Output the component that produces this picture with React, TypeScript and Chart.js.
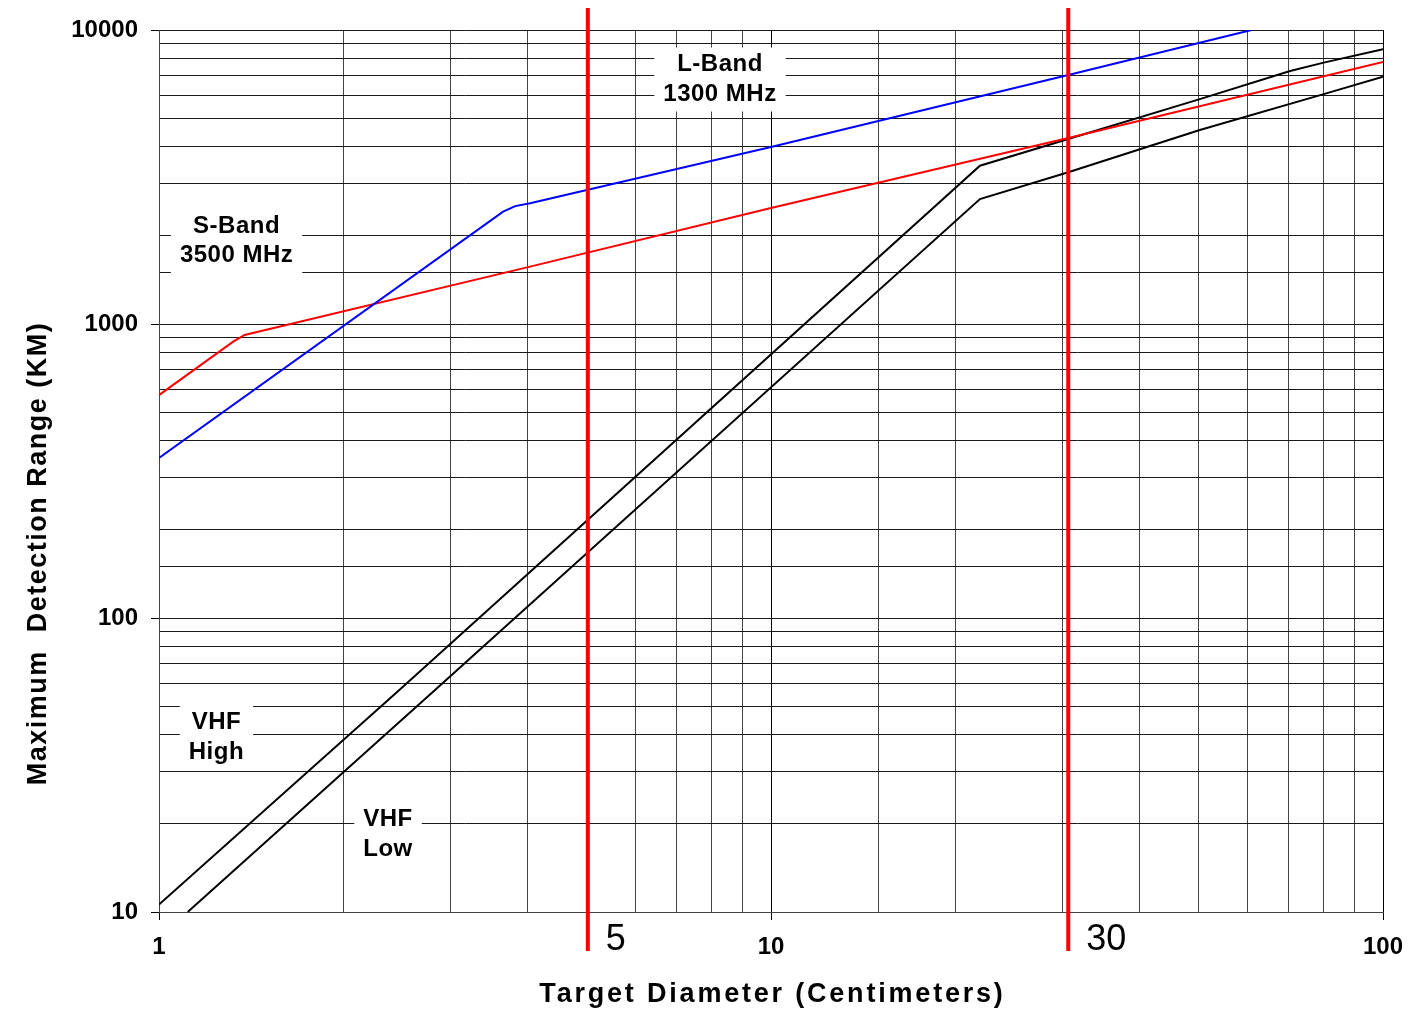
import React, { useEffect, useRef } from 'react';
import { Chart, registerables } from 'chart.js';

Chart.register(...registerables);

const FONT = '"Liberation Sans", Arial, Helvetica, sans-serif';

// Axis labels
const xTickLabels = [1, 10, 100];
const yTickLabels = [10, 100, 1000, 10000];
const xTitle = 'Target Diameter (Centimeters)';
const yTitle = 'Maximum  Detection Range (KM)';

// Series (target diameter cm -> range km)
const blueX = [1, 3.65, 3.82, 4.04, 10, 30.6, 61];
const blueY = [350, 2410, 2518, 2573, 4000, 7030, 10000];

const redX = [1, 1.322, 1.38, 4.04, 10, 30.6, 100];
const redY = [573, 871, 918, 1567, 2480, 4290, 7785];

const vhfHighX = [1, 2.47, 21.95, 30.6, 50.2, 70.5, 80, 100];
const vhfHighY = [10.6, 56.9, 3454, 4256, 5821, 7250, 7745, 8610];

const vhfLowX = [1.114, 2.825, 21.95, 30.6, 50.2, 80, 100];
const vhfLowY = [10, 56.9, 2661, 3281, 4571, 6053, 6935];

// Vertical marker lines
const markerValues = [5.02, 30.6];
const markerLabels = ['5', '30'];

// Band annotations
const bandLines = [
  ['L-Band', '1300 MHz'],
  ['S-Band', '3500 MHz'],
  ['VHF', 'High'],
  ['VHF', 'Low'],
];
const bandAtX = [8.254, 1.339, 1.241, 2.367];
const bandAtY = [6785, 1915, 39.2, 18.35];

const isDecade = (v: number) =>
  Math.abs(Math.log10(v) - Math.round(Math.log10(v))) < 1e-6;

const toPts = (xs: number[], ys: number[]) => xs.map((x, i) => ({ x, y: ys[i] }));

export default function App() {
  const ref = useRef<HTMLCanvasElement>(null);

  useEffect(() => {
    document.body.style.margin = '0';
    document.body.style.overflow = 'hidden';
    const canvas = ref.current!;

    const annot = {
      id: 'annot',
      beforeDatasetsDraw(chart: any) {
        const ctx = chart.ctx as CanvasRenderingContext2D;
        const xs = chart.scales.x;
        const ys = chart.scales.y;
        ctx.save();
        ctx.font = `bold 24px ${FONT}`;
        (ctx as any).letterSpacing = '0.5px';
        bandLines.forEach((lines, i) => {
          const cx = xs.getPixelForValue(bandAtX[i]);
          const cy = ys.getPixelForValue(bandAtY[i]);
          const w = Math.max(...lines.map((l) => ctx.measureText(l).width)) + 18;
          const h = 64;
          ctx.fillStyle = '#ffffff';
          ctx.fillRect(cx - w / 2, cy - h / 2, w, h);
          ctx.fillStyle = '#000000';
          ctx.textAlign = 'center';
          ctx.textBaseline = 'middle';
          const gap = 29.5;
          lines.forEach((l, j) => {
            ctx.fillText(l, cx, cy + (j - (lines.length - 1) / 2) * gap);
          });
        });
        ctx.restore();
      },
      afterDatasetsDraw(chart: any) {
        const ctx = chart.ctx as CanvasRenderingContext2D;
        const xs = chart.scales.x;
        const area = chart.chartArea;
        ctx.save();
        markerValues.forEach((v, i) => {
          const px = xs.getPixelForValue(v);
          ctx.strokeStyle = '#ff0000';
          ctx.lineWidth = 4;
          ctx.beginPath();
          ctx.moveTo(px, area.top - 22);
          ctx.lineTo(px, area.bottom + 39);
          ctx.stroke();
          ctx.fillStyle = '#000000';
          ctx.font = `36px ${FONT}`;
          ctx.textAlign = 'left';
          ctx.textBaseline = 'alphabetic';
          ctx.fillText(markerLabels[i], px + 18, area.bottom + 38);
        });
        ctx.restore();
      },
      afterDraw(chart: any) {
        const ctx = chart.ctx as CanvasRenderingContext2D;
        const area = chart.chartArea;
        ctx.save();
        ctx.fillStyle = '#000000';
        ctx.font = `bold 27px ${FONT}`;
        (ctx as any).letterSpacing = '2.8px';
        ctx.textAlign = 'center';
        ctx.textBaseline = 'alphabetic';
        ctx.fillText(xTitle, (area.left + area.right) / 2 + 1.5, area.bottom + 90);
        (ctx as any).letterSpacing = '1.5px';
        ctx.translate(46, 554.5);
        ctx.rotate(-Math.PI / 2);
        ctx.fillText(yTitle, 1, 0);
        ctx.restore();
      },
    };

    const lineDs = (label: string, xs: number[], ys: number[], color: string) => ({
      label,
      data: toPts(xs, ys),
      borderColor: color,
      backgroundColor: color,
      borderWidth: 2,
      pointRadius: 0,
      tension: 0,
      fill: false,
    });

    const chart = new Chart(canvas, {
      type: 'line',
      data: {
        datasets: [
          lineDs('L-Band', blueX, blueY, '#0000ff'),
          lineDs('S-Band', redX, redY, '#ff0000'),
          lineDs('VHF High', vhfHighX, vhfHighY, '#000000'),
          lineDs('VHF Low', vhfLowX, vhfLowY, '#000000'),
        ],
      },
      options: {
        responsive: false,
        devicePixelRatio: 1,
        animation: false,
        layout: { padding: { top: 30, right: 26, left: 0, bottom: 0 } },
        plugins: {
          legend: { display: false },
          tooltip: { enabled: false },
        },
        scales: {
          x: {
            type: 'logarithmic',
            min: 1,
            max: 100,
            afterFit: (s: any) => {
              s.height = 99;
              s.paddingLeft = 0;
              s.paddingRight = 0;
            },
            border: { display: true, color: '#444', width: 1 },
            grid: {
              color: (c: any) => (c.tick && isDecade(c.tick.value) ? '#000' : '#444'),
              lineWidth: 1,
              tickLength: 8,
              tickColor: (c: any) =>
                c.tick && isDecade(c.tick.value) ? '#000' : 'rgba(0,0,0,0)',
            },
            ticks: {
              autoSkip: false,
              maxRotation: 0,
              padding: 13,
              color: '#000',
              font: { family: FONT, size: 24, weight: 'bold' },
              callback: (v: any) => {
                const n = Number(v);
                return xTickLabels.some((t) => Math.abs(t - n) < 1e-6) ? String(n) : '';
              },
            },
          },
          y: {
            type: 'logarithmic',
            min: 10,
            max: 10000,
            afterFit: (s: any) => {
              s.width = 159;
              s.paddingTop = 0;
              s.paddingBottom = 0;
            },
            border: { display: true, color: '#444', width: 1 },
            grid: {
              color: '#1a1a1a',
              lineWidth: 1,
              tickLength: 8,
              tickColor: (c: any) =>
                c.tick && isDecade(c.tick.value) ? '#000' : 'rgba(0,0,0,0)',
            },
            ticks: {
              autoSkip: false,
              padding: 13,
              color: '#000',
              font: { family: FONT, size: 24, weight: 'bold' },
              callback: (v: any) => {
                const n = Number(v);
                return yTickLabels.some((t) => Math.abs(t - n) < 1e-6) ? String(n) : '';
              },
            },
          },
        },
      } as any,
      plugins: [annot],
    });

    return () => chart.destroy();
  }, []);

  return (
    <div style={{ position: 'absolute', left: 0, top: 0, width: 1409, height: 1011, background: '#fff' }}>
      <canvas ref={ref} width={1409} height={1011} style={{ display: 'block', width: 1409, height: 1011 }} />
    </div>
  );
}
